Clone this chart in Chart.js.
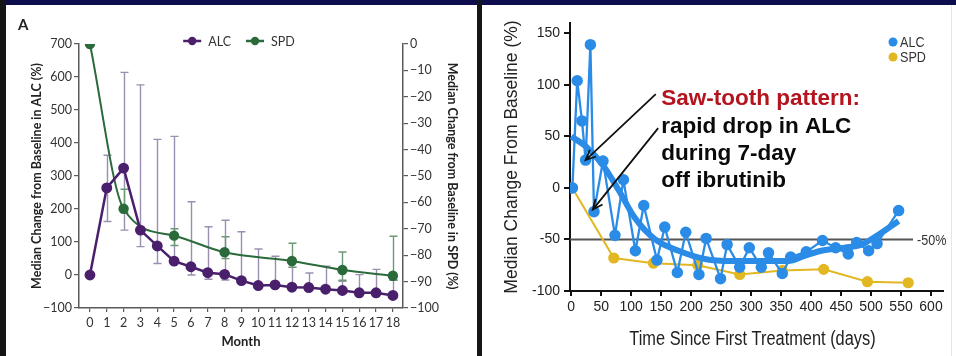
<!DOCTYPE html>
<html>
<head>
<meta charset="utf-8">
<script src="https://cdn.jsdelivr.net/npm/chart.js@4.4.1/dist/chart.umd.min.js"></script>
<style>
  html, body { margin: 0; padding: 0; background: #fff; }
  body { width: 956px; height: 356px; position: relative; overflow: hidden; }
  #topbar { position: absolute; left: 0; top: 0; width: 956px; height: 5px; background: #0d0d4d; }
  #leftEdge { position: absolute; left: 0; top: 0; width: 6px; height: 356px; background: #151515; }
  #divider { position: absolute; left: 477px; top: 0; width: 5px; height: 356px; background: #161616; }
  #rightEdge { position: absolute; left: 951px; top: 5px; width: 1px; height: 351px; background: #e6e6e6; }
  #chartA { position: absolute; left: 7px; top: 5px; }
  #chartB { position: absolute; left: 482px; top: 5px; }
  #tagA { position: absolute; left: 18px; top: 15px; font: bold 15px Lato, sans-serif; color: #222; }
</style>
</head>
<body>
<div id="topbar"></div>
<div id="leftEdge"></div>
<div id="divider"></div>
<div id="rightEdge"></div>
<canvas id="chartA" width="470" height="351"></canvas>
<canvas id="chartB" width="474" height="351"></canvas>
<div id="tagA">A</div>
<script>
// ---- panel A: NEJM style, ALC (left axis) and SPD (right axis) by month
const months = [0, 1, 2, 3, 4, 5, 6, 7, 8, 9, 10, 11, 12, 13, 14, 15, 16, 17, 18];
const alcMedian = [0, 264, 324, 136, 88, 42, 25, 7, 2, -17, -32, -30, -37, -38, -43, -47, -54, -54, -62];
const alcUpper = [null, 363, 614, 576, 411, 420, 222, 146, 166, 131, 79, 57, 24, 6, 27, -19, 1, 17, -16];
const alcLower = [null, 162, 136, 86, 35, null, 0, -13, -15, null, null, null, null, null, null, null, null, null, null];
const spdMonths = [0, 2, 5, 8, 12, 15, 18];
const spdMedian = [0, -62.4, -72.6, -78.9, -82.2, -85.6, -87.8];
const spdUpper = [null, -55, -70, -73, -75.5, -78.8, -72.8];
const spdLower = [null, -63.8, -76.3, -81.3, -84.6, -89.5, -89.4];
const alcTicks = [-100, 0, 100, 200, 300, 400, 500, 600, 700];
const spdTicks = [-100, -90, -80, -70, -60, -50, -40, -30, -20, -10, 0];

// ---- panel B: days since first treatment
const alcDays = [2, 10, 18, 24, 32, 38, 53, 73, 87, 107, 121, 143, 156, 177, 191, 213, 225, 249, 260, 281, 297, 317, 329, 352, 366, 392, 419, 441, 462, 476, 496, 510, 546];
const alcChange = [0, 104, 65, 27, 139, -23, 26, -46, 8, -61, -17, -70, -38, -82, -43, -84, -49, -88, -55, -77, -58, -77, -63, -83, -67, -62, -51, -58, -64, -53, -61, -54, -22];
const trendDays = [0, 25, 53, 79, 106, 140, 179, 223, 267, 317, 362, 389, 417, 456, 484, 511, 546];
const trendChange = [50, 40, 22, -2, -29, -50, -61, -69, -71, -71, -71, -66, -61, -58, -55, -46, -32];
const spdDays = [2, 71, 137, 211, 281, 352, 421, 494, 562];
const spdChange = [0, -68, -73, -75, -84, -80, -79, -91, -92];
const dayTicks = [0, 50, 100, 150, 200, 250, 300, 350, 400, 450, 500, 550, 600];
const changeTicks = [-100, -50, 0, 50, 100, 150];
const refValue = -50;
const refEndDay = 570;
const noteLines = ['Saw-tooth pattern:', 'rapid drop in ALC', 'during 7-day', 'off ibrutinib'];
const noteAt = [150, 80];
const arrowFrom = [[141, 91], [145, 58]];
const arrowTo = [[24, 27], [36, -21]];
const xTitleB = 'Time Since First Treatment (days)';

const purple = '#4a1f6c', green = '#2b6b3b', gray = '#5a5a5a';
const blue = '#2a8ce6', gold = '#e2b722';
const minus = v => String(v).replace('-', '\u2212');
const pts = (xs, ys) => xs.map((x, i) => ({ x: x, y: ys[i] }));

const errorBars = {
  id: 'errorBars',
  beforeDatasetsDraw(chart) {
    const ctx = chart.ctx, xs = chart.scales.x;
    function draw(xv, up, lo, mid, ys, color) {
      ctx.save();
      ctx.strokeStyle = color;
      ctx.lineWidth = 1.4;
      xv.forEach((m, i) => {
        const px = Math.round(xs.getPixelForValue(m)) + 0.5;
        [up[i], lo[i]].forEach(v => {
          if (v == null) return;
          const p0 = ys.getPixelForValue(mid[i]), p1 = ys.getPixelForValue(v);
          ctx.beginPath();
          ctx.moveTo(px, p0); ctx.lineTo(px, p1);
          ctx.moveTo(px - 4, p1); ctx.lineTo(px + 4, p1);
          ctx.stroke();
        });
      });
      ctx.restore();
    }
    draw(months, alcUpper, alcLower, alcMedian, chart.scales.y, '#9a8fb0');
    draw(spdMonths, spdUpper, spdLower, spdMedian, chart.scales.y2, '#6c9874');
  }
};

const legendA = {
  id: 'legendA',
  afterDraw(chart) {
    const ctx = chart.ctx, a = chart.chartArea;
    ctx.save();
    ctx.font = '12.5px Lato, sans-serif';
    ctx.textBaseline = 'middle';
    const items = chart.data.datasets.map(d => ({ label: d.label, color: d.borderColor }));
    let total = 0;
    items.forEach((it, i) => { total += 18 + 7 + ctx.measureText(it.label).width + (i ? 0 : 15); });
    let x = (a.left + a.right) / 2 - total / 2 - 2;
    const y = a.top - 3;
    items.forEach(it => {
      ctx.strokeStyle = it.color; ctx.fillStyle = it.color; ctx.lineWidth = 2.5;
      ctx.beginPath(); ctx.moveTo(x, y); ctx.lineTo(x + 18, y); ctx.stroke();
      ctx.beginPath(); ctx.arc(x + 9, y, 4.2, 0, Math.PI * 2); ctx.fill();
      x += 25;
      ctx.fillStyle = '#333';
      ctx.fillText(it.label, x, y + 0.5);
      x += ctx.measureText(it.label).width + 15;
    });
    ctx.restore();
  }
};

new Chart(document.getElementById('chartA'), {
  type: 'line',
  data: {
    datasets: [
      { label: 'ALC', data: pts(months, alcMedian), yAxisID: 'y', borderColor: purple, backgroundColor: purple,
        borderWidth: 2.5, pointRadius: 4.2, pointHoverRadius: 4.2, tension: 0 },
      { label: 'SPD', data: pts(spdMonths, spdMedian), yAxisID: 'y2', borderColor: green, backgroundColor: green,
        borderWidth: 2, pointRadius: 4.2, pointHoverRadius: 4.2, cubicInterpolationMode: 'monotone' }
    ]
  },
  options: {
    responsive: false, animation: false, devicePixelRatio: 1,
    layout: { padding: { top: 39, left: 0, right: 0, bottom: 0 } },
    plugins: { legend: { display: false }, tooltip: { enabled: false } },
    scales: {
      x: {
        type: 'linear', min: -0.65, max: 18.6,
        afterBuildTicks: s => { s.ticks = months.map(v => ({ value: v })); },
        afterFit: s => { s.height = 48; },
        grid: { drawOnChartArea: false, tickLength: 4, color: gray, lineWidth: 1.2 },
        border: { color: gray, width: 1.5 },
        ticks: { padding: 3, color: '#333', autoSkip: false, maxRotation: 0, font: { family: 'Lato', size: 12.5 } },
        title: { display: true, text: 'Month', color: '#222', font: { family: 'Lato', size: 13, weight: 'bold' }, padding: { top: 0, bottom: 6 } }
      },
      y: {
        position: 'left', min: -100, max: 700,
        afterBuildTicks: s => { s.ticks = alcTicks.map(v => ({ value: v })); },
        afterFit: s => { s.width = 72; },
        grid: { drawOnChartArea: false, tickLength: 5, color: gray, lineWidth: 1.2 },
        border: { color: gray, width: 1.5 },
        ticks: { padding: 2, color: '#333', font: { family: 'Lato', size: 12.5 }, callback: minus },
        title: { display: true, text: 'Median Change from Baseline in ALC (%)', color: '#222', font: { family: 'Lato', size: 12.5, weight: 'bold' }, padding: { top: 22, bottom: 0 } }
      },
      y2: {
        position: 'right', min: -100, max: 0,
        afterBuildTicks: s => { s.ticks = spdTicks.map(v => ({ value: v })); },
        afterFit: s => { s.width = 74; },
        grid: { drawOnChartArea: false, tickLength: 5, color: gray, lineWidth: 1.2 },
        border: { color: gray, width: 1.5 },
        ticks: { padding: 2, color: '#333', font: { family: 'Lato', size: 12.5 }, callback: minus },
        title: { display: true, text: 'Median Change from Baseline in SPD (%)', color: '#222', font: { family: 'Lato', size: 12.5, weight: 'bold' }, padding: { top: 17, bottom: 0 } }
      }
    }
  },
  plugins: [errorBars, legendA]
});

const sans = "'Liberation Sans', Arial, sans-serif";

// condensed text: Arial squeezed horizontally, as in the original figure
function narrowText(ctx, text, x, y, size, align) {
  ctx.save();
  ctx.translate(x, y);
  ctx.scale(0.84, 1);
  ctx.font = size + 'px ' + sans;
  ctx.textAlign = align;
  ctx.textBaseline = 'middle';
  ctx.fillText(text, 0, 0);
  ctx.restore();
}

const notesB = {
  id: 'notesB',
  beforeDatasetsDraw(chart) {
    const ctx = chart.ctx, xs = chart.scales.x, ys = chart.scales.y;
    const yy = ys.getPixelForValue(refValue);
    const xEnd = xs.getPixelForValue(refEndDay);
    ctx.save();
    ctx.strokeStyle = '#555'; ctx.lineWidth = 2;
    ctx.beginPath(); ctx.moveTo(chart.chartArea.left, yy); ctx.lineTo(xEnd, yy); ctx.stroke();
    ctx.fillStyle = '#333';
    narrowText(ctx, refValue + '%', xEnd + 4, yy + 1, 15, 'left');
    ctx.restore();
  },
  afterDatasetsDraw(chart) {
    const ctx = chart.ctx, xs = chart.scales.x, ys = chart.scales.y, a = chart.chartArea;
    ctx.save();
    // arrows
    ctx.strokeStyle = '#111'; ctx.lineWidth = 1.8;
    arrowFrom.forEach((f, i) => {
      const x0 = xs.getPixelForValue(f[0]), y0 = ys.getPixelForValue(f[1]);
      const x1 = xs.getPixelForValue(arrowTo[i][0]), y1 = ys.getPixelForValue(arrowTo[i][1]);
      const ang = Math.atan2(y1 - y0, x1 - x0), L = 11, w = 0.42;
      ctx.beginPath();
      ctx.moveTo(x0, y0); ctx.lineTo(x1, y1);
      ctx.moveTo(x1 - L * Math.cos(ang - w), y1 - L * Math.sin(ang - w));
      ctx.lineTo(x1, y1);
      ctx.lineTo(x1 - L * Math.cos(ang + w), y1 - L * Math.sin(ang + w));
      ctx.stroke();
    });
    // annotation text
    const tx = xs.getPixelForValue(noteAt[0]);
    let ty = ys.getPixelForValue(noteAt[1]);
    ctx.font = 'bold 22.5px ' + sans;
    ctx.textBaseline = 'alphabetic';
    noteLines.forEach((t, i) => {
      ctx.fillStyle = i === 0 ? '#b3141d' : '#0a0a0a';
      ctx.fillText(t, tx, ty);
      ty += 27.3;
    });
    // legend
    const lx = a.right - 50;
    [['ALC', blue], ['SPD', gold]].forEach((it, i) => {
      const ly = a.top + 19 + i * 15;
      ctx.fillStyle = it[1];
      ctx.beginPath(); ctx.arc(lx, ly, 4.5, 0, Math.PI * 2); ctx.fill();
      ctx.fillStyle = '#333';
      narrowText(ctx, it[0], lx + 7, ly + 1, 15, 'left');
    });
    // x axis title
    ctx.fillStyle = '#222';
    narrowText(ctx, xTitleB, (a.left + a.right) / 2 - 4, a.bottom + 49, 19.5, 'center');
    ctx.restore();
  }
};

new Chart(document.getElementById('chartB'), {
  type: 'line',
  data: {
    datasets: [
      { label: 'ALC', data: pts(alcDays, alcChange), borderColor: blue, backgroundColor: blue,
        borderWidth: 2.3, pointRadius: 4.6, pointHoverRadius: 4.6, tension: 0, order: 0 },
      { label: 'ALC trend', data: pts(trendDays, trendChange), borderColor: blue,
        borderWidth: 6, pointRadius: 0, cubicInterpolationMode: 'monotone', order: 1 },
      { label: 'SPD', data: pts(spdDays, spdChange), borderColor: gold, backgroundColor: gold,
        borderWidth: 2, pointRadius: 4.6, pointHoverRadius: 4.6, tension: 0, order: 2 }
    ]
  },
  options: {
    responsive: false, animation: false, devicePixelRatio: 1,
    layout: { padding: { top: 18, left: 0, right: 13, bottom: 0 } },
    plugins: { legend: { display: false }, tooltip: { enabled: false } },
    scales: {
      x: {
        type: 'linear', min: -2, max: 620,
        afterBuildTicks: s => { s.ticks = dayTicks.map(v => ({ value: v })); },
        afterFit: s => { s.height = 65; },
        grid: { drawOnChartArea: false, tickLength: 5, color: '#111', lineWidth: 2 },
        border: { color: '#111', width: 2 },
        ticks: { padding: 3, color: '#222', autoSkip: false, maxRotation: 0, font: { family: sans, size: 14 } },
        title: { display: false, text: xTitleB }
      },
      y: {
        min: -100, max: 160,
        afterBuildTicks: s => { s.ticks = changeTicks.map(v => ({ value: v })); },
        afterFit: s => { s.width = 88; },
        grid: { drawOnChartArea: false, tickLength: 6, color: '#111', lineWidth: 2 },
        border: { color: '#111', width: 2 },
        ticks: { padding: 4, color: '#222', font: { family: sans, size: 14 } },
        title: { display: true, text: 'Median Change From Baseline (%)', color: '#222', font: { family: sans, size: 17.5 }, padding: { top: 20, bottom: 0 } }
      }
    }
  },
  plugins: [notesB]
});
</script>
</body>
</html>
